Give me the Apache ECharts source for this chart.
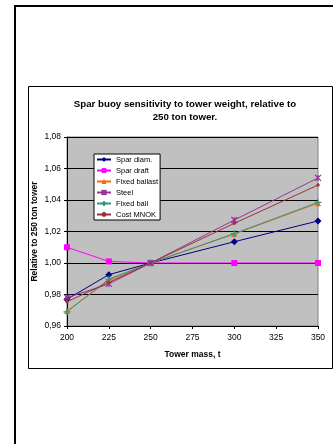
<!DOCTYPE html>
<html><head><meta charset="utf-8">
<script src="https://cdn.jsdelivr.net/npm/echarts@6/dist/echarts.min.js"></script>
<style>html,body{margin:0;padding:0;background:#fff}#c{width:333px;height:444px}</style>
</head><body><div id="c"></div>
<script>
const xValues = [200, 225, 250, 300, 350];
const sparDiam = [0.977, 0.9926, 1.000, 1.0135, 1.0267];
const sparDraft = [1.010, 1.001, 1.000, 1.000, 1.000];
const fixedBallast = [0.9695, 0.989, 1.000, 1.0184, 1.038];
const steel = [0.978, 0.9867, 1.000, 1.0273, 1.054];
const fixedBall = [0.969, 0.9898, 1.000, 1.0187, 1.0385];
const costMNOK = [0.9754, 0.9877, 1.000, 1.0252, 1.0495];
const seriesNames = ['Spar diam.', 'Spar draft', 'Fixed ballast', 'Steel', 'Fixed ball', 'Cost MNOK'];
const titleText = 'Spar buoy sensitivity to tower weight, relative to\n250 ton tower.';
const xName = 'Tower mass, t';
const yName = 'Relative to 250 ton tower';

const font = 'Liberation Sans, Arial, sans-serif';
const pairs = v => xValues.map((x, i) => [x, v[i]]);
const defs = [
  {data: sparDiam, color: '#000080', symbol: 'diamond', size: 7},
  {data: sparDraft, color: '#FF00FF', symbol: 'rect', size: 6},
  {data: fixedBallast, color: '#FF6600', symbol: 'triangle', size: 6},
  {data: steel, color: '#993399', symbol: 'path://M0,0L10,10M10,0L0,10M5,0L5,10', size: 6, stroke: true},
  {data: fixedBall, color: '#339980', symbol: 'path://M5,0L5,10M0,5L10,5', size: 7, stroke: true},
  {data: costMNOK, color: '#993333', symbol: 'circle', size: 3.5}
];
const chart = echarts.init(document.getElementById('c'), null, {renderer: 'canvas'});
chart.setOption({
  animation: false,
  backgroundColor: '#fff',
  title: {
    text: titleText, left: 180, top: 93, textAlign: 'center',
    textStyle: {fontFamily: font, fontSize: 9.7, fontWeight: 'bold', color: '#000', lineHeight: 13}
  },
  graphic: [
    {type: 'line', shape: {x1: 15, y1: 6, x2: 333, y2: 6}, style: {stroke: '#000', lineWidth: 2}},
    {type: 'line', shape: {x1: 15, y1: 5, x2: 15, y2: 444}, style: {stroke: '#000', lineWidth: 2}},
    {type: 'rect', shape: {x: 28.5, y: 86.5, width: 304, height: 282}, style: {fill: 'none', stroke: '#000', lineWidth: 1}, z: -1}
  ],
  legend: {
    orient: 'vertical', left: 94, top: 154,
    data: seriesNames,
    itemWidth: 14, itemHeight: 6, itemGap: 2,
    backgroundColor: '#fff', borderColor: '#000', borderWidth: 1,
    padding: [1, 2, 1, 2],
    textStyle: {fontFamily: font, fontSize: 7.5, color: '#000', lineHeight: 9, height: 9}
  },
  grid: {
    left: 67, right: 15, top: 137, bottom: 118,
    show: true, backgroundColor: '#C0C0C0', borderColor: '#808080', borderWidth: 1
  },
  xAxis: {
    type: 'value', min: 200, max: 350, interval: 25,
    name: xName, nameLocation: 'middle', nameGap: 24,
    nameTextStyle: {fontFamily: font, fontSize: 8.5, fontWeight: 'bold', color: '#000'},
    axisLine: {lineStyle: {color: '#000', width: 1}},
    axisTick: {show: true, length: 3, lineStyle: {color: '#000'}},
    axisLabel: {fontFamily: font, fontSize: 8.5, color: '#000', margin: 7},
    splitLine: {show: false}
  },
  yAxis: {
    type: 'value', min: 0.96, max: 1.08, interval: 0.02,
    name: yName, nameLocation: 'middle', nameGap: 28, nameRotate: 90, nameMoveOverlap: false,
    nameTextStyle: {fontFamily: font, fontSize: 8.5, fontWeight: 'bold', color: '#000'},
    axisLine: {show: true, lineStyle: {color: '#000', width: 1}},
    axisTick: {show: true, length: 3, lineStyle: {color: '#000'}},
    axisLabel: {fontFamily: font, fontSize: 8.5, color: '#000', margin: 6,
      formatter: v => v.toFixed(2).replace('.', ',')},
    splitLine: {show: true, lineStyle: {color: '#000', width: 1}}
  },
  series: defs.map((d, i) => ({
    name: seriesNames[i], type: 'line', data: pairs(d.data),
    symbol: d.symbol, symbolSize: d.size, showSymbol: true,
    lineStyle: {color: d.color, width: 1},
    itemStyle: d.stroke ? {color: d.color, borderColor: d.color, borderWidth: 1.2} : {color: d.color, borderWidth: 0},
    emphasis: {disabled: true}
  }))
});
</script></body></html>
